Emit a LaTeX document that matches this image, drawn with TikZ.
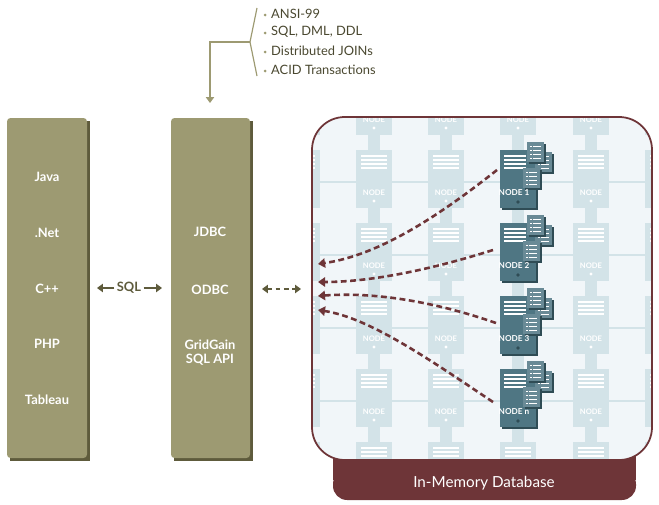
\documentclass[tikz,border=0pt]{standalone}
\usepackage{fontspec}
\setmainfont{Lato}
\usetikzlibrary{arrows.meta}
\definecolor{olive}{HTML}{9D9A72}
\definecolor{oliveD}{HTML}{5E5B3C}
\definecolor{oliveT}{HTML}{4A4830}
\definecolor{wine}{HTML}{6E3538}
\definecolor{dbbg}{HTML}{F1F6F9}
\definecolor{ghost}{HTML}{D3E3E8}
\definecolor{teal}{HTML}{4F7683}
\definecolor{tealD}{HTML}{2F4C55}
\newcommand{\ghostbody}[2]{%
  \fill[ghost] (#1-18,#2) rectangle (#1+18,#2+58);
  \foreach \k in {0,1,2,3}{\fill[white] (#1-13,#2+5+\k*4) rectangle (#1+13,#2+6.5+\k*4);}
  \fill[white] (#1,#2+51) circle (1.6);}
\newcommand{\ghostlbl}[2]{\node[font=\bfseries\fontsize{6.5}{6.5}\selectfont,text=white] at (#1,#2+43) {NODE};}
\newcommand{\docicon}[2]{%
  \fill[tealD] (#1+1.5,#2+1.5) rectangle (#1+18.5,#2+21.5);
  \fill[teal!85] (#1,#2) rectangle (#1+17,#2+20);
  \foreach \k in {0,1,2,3}{\fill[white] (#1+3,#2+4+\k*4) rectangle (#1+4.5,#2+5+\k*4);
    \fill[white] (#1+6,#2+4+\k*4) rectangle (#1+14,#2+5+\k*4);}}
\newcommand{\hisrv}[3]{%
  \fill[tealD] (#1-16,#2+2) rectangle (#1+20,#2+60);
  \fill[teal] (#1-18,#2) rectangle (#1+18,#2+58);
  \foreach \k in {0,1,2,3}{\fill[white] (#1-14,#2+5+\k*4) rectangle (#1+8,#2+6.5+\k*4);}
  \docicon{#1+17}{#2+2}
  \docicon{#1+9}{#2-8}
  \docicon{#1+5}{#2+18}
  \node[font=\bfseries\fontsize{7}{7}\selectfont,text=white] at (#1-4,#2+43) {#3};
  \fill[tealD] (#1,#2+52) circle (1.8);}
\begin{document}
\begin{tikzpicture}[x=0.03cm,y=-0.03cm,
  lbl/.style={font=\bfseries\fontsize{11}{13}\selectfont,text=white,align=center},
  dasharr/.style={wine,line width=2.2pt,dash pattern=on 5pt off 3pt,-{Triangle[length=6pt,width=8pt]}}]
\useasboundingbox (0,0) rectangle (659,505);
% left boxes
\fill[oliveD] (10,121) rectangle (90,461);
\fill[olive,rounded corners=3] (7,118) rectangle (87,458);
\fill[oliveD] (174,121) rectangle (253,461);
\fill[olive,rounded corners=3] (171,118) rectangle (250,458);
\node[lbl] (java) at (47,177) {Java};
\node[lbl] (net) at (47,233) {.Net};
\node[lbl] (cpp) at (47,289) {C++};
\node[lbl] (php) at (47,344) {PHP};
\node[lbl] (tab) at (47,400) {Tableau};
\node[lbl] (jdbc) at (210,232) {JDBC};
\node[lbl] (odbc) at (210,290) {ODBC};
\node[lbl] (gg) at (210,353) {GridGain\\[-1pt]SQL API};
% SQL arrow
\node[font=\bfseries\fontsize{11}{13}\selectfont,text=oliveD,inner sep=2pt] (sql) at (129,288) {SQL};
\coordinate (sl) at (97,288); \coordinate (sr) at (162,288);
\draw[oliveD,line width=1.8pt,-{Triangle[length=5pt,width=7pt]}] (sql.west) -- (sl);
\draw[oliveD,line width=1.8pt,-{Triangle[length=5pt,width=7pt]}] (sql.east) -- (sr);
\coordinate (da) at (262,289); \coordinate (db) at (301,289);
\draw[oliveD,line width=1.8pt,dash pattern=on 4pt off 3pt,{Triangle[length=5pt,width=7pt]}-{Triangle[length=5pt,width=7pt]}] (da) -- (db);
% top bracket
\draw[olive,line width=1pt] (257,8) -- (250,42) -- (257,76);
\coordinate (b1) at (250,42); \coordinate (b2) at (210,42); \coordinate (b3) at (210,103);
\draw[olive,line width=1pt,-{Triangle[length=5pt,width=7pt]}] (b1) -- (b2) -- (b3);
\foreach \t/\yy in {ANSI-99/14,{SQL, DML, DDL}/32,Distributed JOINs/51,ACID Transactions/70}{
  \fill[olive] (265,\yy+1) circle (1.5);
  \node[anchor=west,text=oliveT,font=\fontsize{11}{13}\selectfont,inner sep=0] at (271,\yy) {\t};}
% database
\fill[wine] (333,440) rectangle (636,480);
\fill[wine,rounded corners=12] (333,470) rectangle (636,500);
\node[text=white,font=\fontsize{13}{15}\selectfont] (dbl) at (484,483) {In-Memory Database};
\fill[dbbg,rounded corners=28] (312,117) rectangle (652,460);
\begin{scope}
\clip[rounded corners=28] (312,117) rectangle (652,460);
\foreach \r in {77,150,223,296,369,442}{\fill[ghost] (290,\r+31) rectangle (670,\r+33);}
\foreach \c in {302,374,446,518,591,663}{
  \foreach \r in {77,150,223,296,369,442}{
    \fill[ghost] (\c-6,\r+58) rectangle (\c+6,\r+73);
    \ghostbody{\c}{\r}}}
\end{scope}
\foreach \c in {374,446,591}{\foreach \r in {77,150,223,296,369}{\ghostlbl{\c}{\r}}}
\ghostlbl{518}{77}
\draw[wine,line width=1.5pt,rounded corners=28] (312,117) rectangle (652,460);
\hisrv{518}{150}{NODE 1}
\hisrv{518}{223}{NODE 2}
\hisrv{518}{296}{NODE 3}
\hisrv{518}{369}{NODE n}
\coordinate (n1) at (497,170); \coordinate (n2) at (493,250);
\coordinate (n3) at (496,323); \coordinate (n4) at (493,402);
\coordinate (t1) at (318,264); \coordinate (t2) at (318,282);
\coordinate (t3) at (318,296); \coordinate (t4) at (318,310);
\draw[dasharr] (n1) .. controls (440,215) and (380,255) .. (t1);
\draw[dasharr] (n2) .. controls (430,270) and (370,282) .. (t2);
\draw[dasharr] (n3) .. controls (430,300) and (370,292) .. (t3);
\draw[dasharr] (n4) .. controls (430,360) and (370,318) .. (t4);
\end{tikzpicture}
\end{document}
